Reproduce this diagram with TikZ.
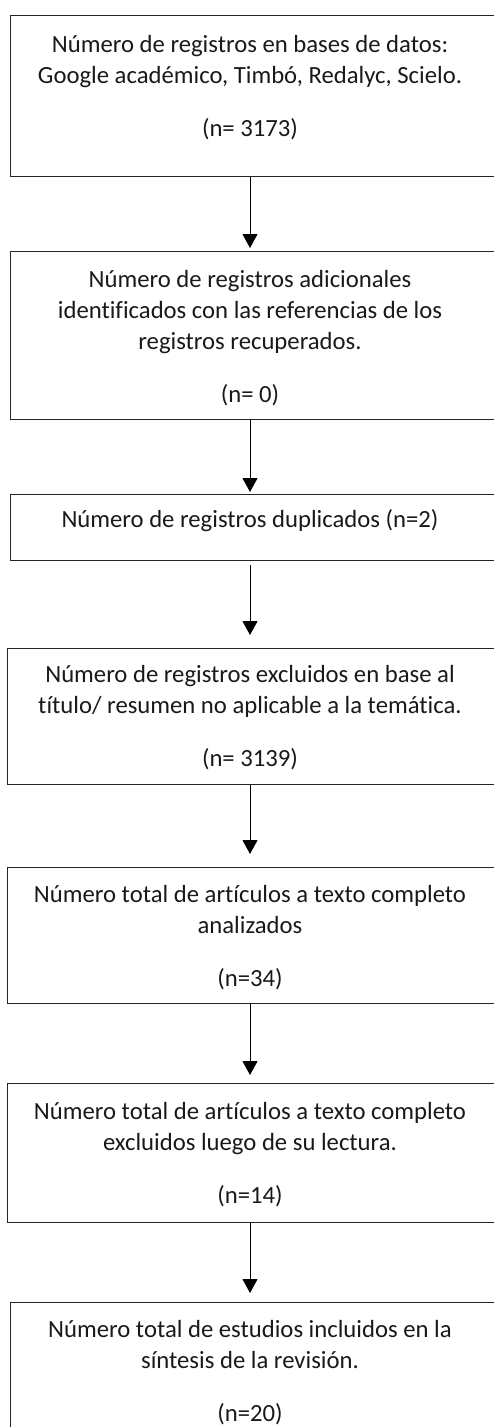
\documentclass[tikz,border=0pt]{standalone}
\usepackage{fontspec}
\setmainfont{Carlito}[Ligatures=NoCommon]
\usetikzlibrary{arrows.meta}

\begin{document}
\begin{tikzpicture}[x=1pt,y=-1pt,
    box node/.style={rectangle,draw=black!85,line width=1.1pt,
      anchor=north west,inner sep=0pt,minimum width=490pt},
    txt node/.style={align=center,anchor=base,inner sep=0pt,text=black!90,
      font=\fontsize{24.7}{31}\selectfont},
    flow/.style={-{Triangle[width=15pt,length=14pt]},line width=0.9pt}]

  \clip (0,0) rectangle (494,1427);
  \coordinate (axis) at (250,0);

  \node[box node,minimum height=161pt] (B1) at (10,15) {};
  \node[box node,minimum height=168pt] (B2) at (10,251) {};
  \node[box node,minimum height=66pt]  (B3) at (10,494) {};
  \node[box node,minimum height=136pt] (B4) at (7,648) {};
  \node[box node,minimum height=136pt] (B5) at (7,867) {};
  \node[box node,minimum height=139pt] (B6) at (7,1083) {};
  \node[box node,minimum height=160pt] (B7) at (10,1302) {};

  % base anchor sits on the last line
  \node[txt node] (T1) at (250,136) {N\'umero de registros en bases de datos:\\
    Google acad\'emico, Timb\'o, Redalyc, Scielo.\\[22pt](n= 3173)};
  \node[txt node] (T2) at (250,402) {N\'umero de registros adicionales\\
    identificados con las referencias de los\\registros recuperados.\\[22pt](n= 0)};
  \node[txt node] (T3) at (250,527) {N\'umero de registros duplicados (n=2)};
  \node[txt node] (T4) at (250,766) {N\'umero de registros excluidos en base al\\
    t\'{\i}tulo/ resumen no aplicable a la tem\'atica.\\[22pt](n= 3139)};
  \node[txt node] (T5) at (250,986) {N\'umero total de art\'{\i}culos a texto completo\\
    analizados\\[22pt](n=34)};
  \node[txt node] (T6) at (250,1203) {N\'umero total de art\'{\i}culos a texto completo\\
    excluidos luego de su lectura.\\[22pt](n=14)};
  \node[txt node] (T7) at (250,1421) {N\'umero total de estudios incluidos en la\\
    s\'{\i}ntesis de la revisi\'on.\\[22pt](n=20)};

  \draw[flow,shorten >=3pt] (B1.south -| axis) -- (B2.north -| axis);
  \draw[flow,shorten >=2pt] (B2.south -| axis) -- (B3.north -| axis);
  \draw[flow,shorten <=4pt,shorten >=13pt] (B3.south -| axis) -- (B4.north -| axis);
  \draw[flow,shorten >=13pt] (B4.south -| axis) -- (B5.north -| axis);
  \draw[flow,shorten >=8pt] (B5.south -| axis) -- (B6.north -| axis);
  \draw[flow,shorten >=9pt] (B6.south -| axis) -- (B7.north -| axis);
\end{tikzpicture}
\end{document}
